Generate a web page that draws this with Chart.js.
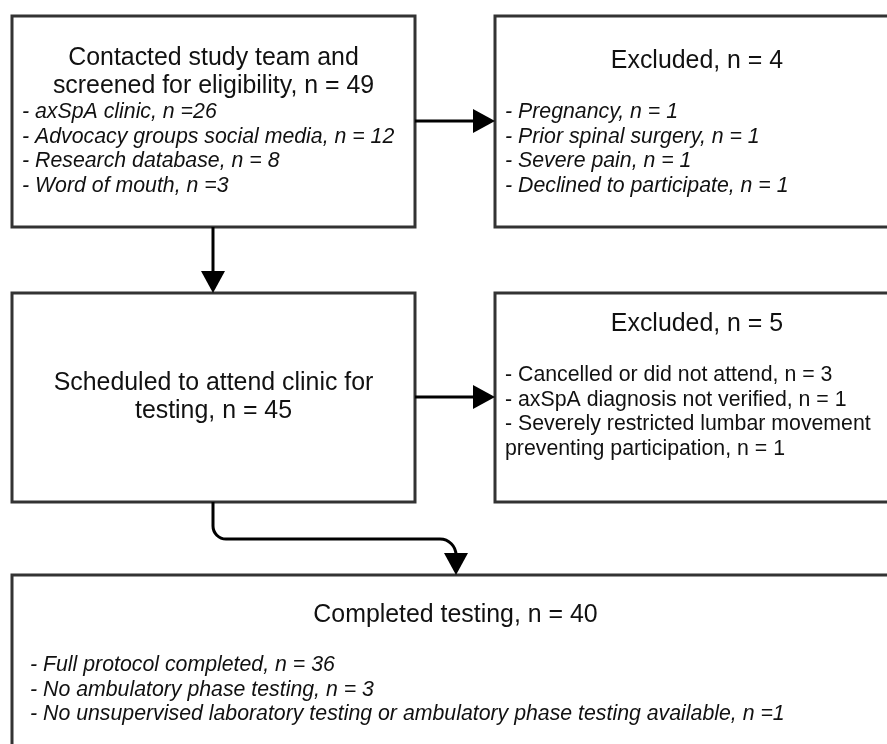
<!DOCTYPE html>
<html>
<head>
<meta charset="utf-8">
<script src="https://cdn.jsdelivr.net/npm/chart.js@4.4.0/dist/chart.umd.min.js"></script>
<style>
  html, body { margin: 0; padding: 0; background: #fff; }
  canvas { display: block; }
</style>
</head>
<body>
<canvas id="flow" width="887" height="744"></canvas>
<script>
// flow stages and counts
const screenedTitle = ["Contacted study team and", "screened for eligibility, n = 49"];
const screenedSources = ["- axSpA clinic, n =26", "- Advocacy groups social media, n = 12", "- Research database, n = 8", "- Word of mouth, n =3"];
const excluded1Title = ["Excluded, n = 4"];
const excluded1Reasons = ["- Pregnancy, n = 1", "- Prior spinal surgery, n = 1", "- Severe pain, n = 1", "- Declined to participate, n = 1"];
const scheduledTitle = ["Scheduled to attend clinic for", "testing, n = 45"];
const excluded2Title = ["Excluded, n = 5"];
const excluded2Reasons = ["- Cancelled or did not attend, n = 3", "- axSpA diagnosis not verified, n = 1", "- Severely restricted lumbar movement", "preventing participation, n = 1"];
const completedTitle = ["Completed testing, n = 40"];
const completedGroups = ["- Full protocol completed, n = 36", "- No ambulatory phase testing, n = 3", "- No unsupervised laboratory testing or ambulatory phase testing available, n =1"];

const FONT = "'Liberation Sans', Arial, sans-serif";

// box layout in scale units (x: 0..887, y: 0..744 top-down)
const boxes = [
  { x0: 12, y0: 16, x1: 415, y1: 227, title: screenedTitle, titleY: 65, lines: screenedSources, listX: 22, listY: 118, italic: true },
  { x0: 495, y0: 16, x1: 899, y1: 227, title: excluded1Title, titleY: 68, lines: excluded1Reasons, listX: 505, listY: 118, italic: true },
  { x0: 12, y0: 293, x1: 415, y1: 502, title: scheduledTitle, titleY: 390, lines: [], listX: 22, listY: 0, italic: false },
  { x0: 495, y0: 293, x1: 899, y1: 502, title: excluded2Title, titleY: 331, lines: excluded2Reasons, listX: 505, listY: 381, italic: false },
  { x0: 12, y0: 575, x1: 899, y1: 760, title: completedTitle, titleY: 622, lines: completedGroups, listX: 30, listY: 671, italic: true }
];

const flowPlugin = {
  id: "flow",
  afterDraw(chart) {
    const ctx = chart.ctx;
    const xs = chart.scales.x, ys = chart.scales.y;
    const px = v => xs.getPixelForValue(v);
    const py = v => ys.getPixelForValue(v);

    ctx.save();
    // boxes
    boxes.forEach(b => {
      ctx.lineWidth = 3;
      ctx.strokeStyle = "#333";
      ctx.strokeRect(px(b.x0), py(b.y0), px(b.x1) - px(b.x0), py(b.y1) - py(b.y0));
      ctx.fillStyle = "#111";
      ctx.textBaseline = "alphabetic";
      ctx.textAlign = "center";
      ctx.font = "24.9px " + FONT;
      const cx = (px(b.x0) + px(b.x1)) / 2;
      b.title.forEach((t, i) => ctx.fillText(t, cx, py(b.titleY + i * 28.3)));
      ctx.textAlign = "left";
      ctx.font = (b.italic ? "italic " : "") + "21.3px " + FONT;
      b.lines.forEach((t, i) => ctx.fillText(t, px(b.listX), py(b.listY + i * 24.6)));
    });

    // arrows
    ctx.strokeStyle = "#000";
    ctx.fillStyle = "#000";
    ctx.lineWidth = 3;
    const head = (tx, ty, dir) => {
      ctx.beginPath();
      if (dir === "right") {
        ctx.moveTo(tx, ty); ctx.lineTo(tx - 22, ty - 12); ctx.lineTo(tx - 22, ty + 12);
      } else {
        ctx.moveTo(tx, ty); ctx.lineTo(tx - 12, ty - 22); ctx.lineTo(tx + 12, ty - 22);
      }
      ctx.closePath();
      ctx.fill();
    };
    const seg = (pts) => {
      ctx.beginPath();
      ctx.moveTo(px(pts[0][0]), py(pts[0][1]));
      pts.slice(1).forEach(p => ctx.lineTo(px(p[0]), py(p[1])));
      ctx.stroke();
    };
    seg([[415, 121], [475, 121]]); head(px(495), py(121), "right");
    seg([[213, 227], [213, 273]]); head(px(213), py(293), "down");
    seg([[415, 397], [475, 397]]); head(px(495), py(397), "right");

    // rounded elbow to final box
    ctx.beginPath();
    ctx.moveTo(px(213), py(502));
    ctx.arcTo(px(213), py(539), px(240), py(539), 13);
    ctx.arcTo(px(456), py(539), px(456), py(560), 16);
    ctx.lineTo(px(456), py(556));
    ctx.stroke();
    head(px(456), py(575), "down");
    ctx.restore();
  }
};

new Chart(document.getElementById("flow"), {
  type: "scatter",
  data: { datasets: [{ data: [], pointRadius: 0 }] },
  options: {
    responsive: false,
    animation: false,
    layout: { padding: 0 },
    plugins: { legend: { display: false }, tooltip: { enabled: false } },
    scales: {
      x: { type: "linear", min: 0, max: 887, display: false },
      y: { type: "linear", min: 0, max: 744, reverse: true, display: false }
    }
  },
  plugins: [flowPlugin]
});
</script>
</body>
</html>
